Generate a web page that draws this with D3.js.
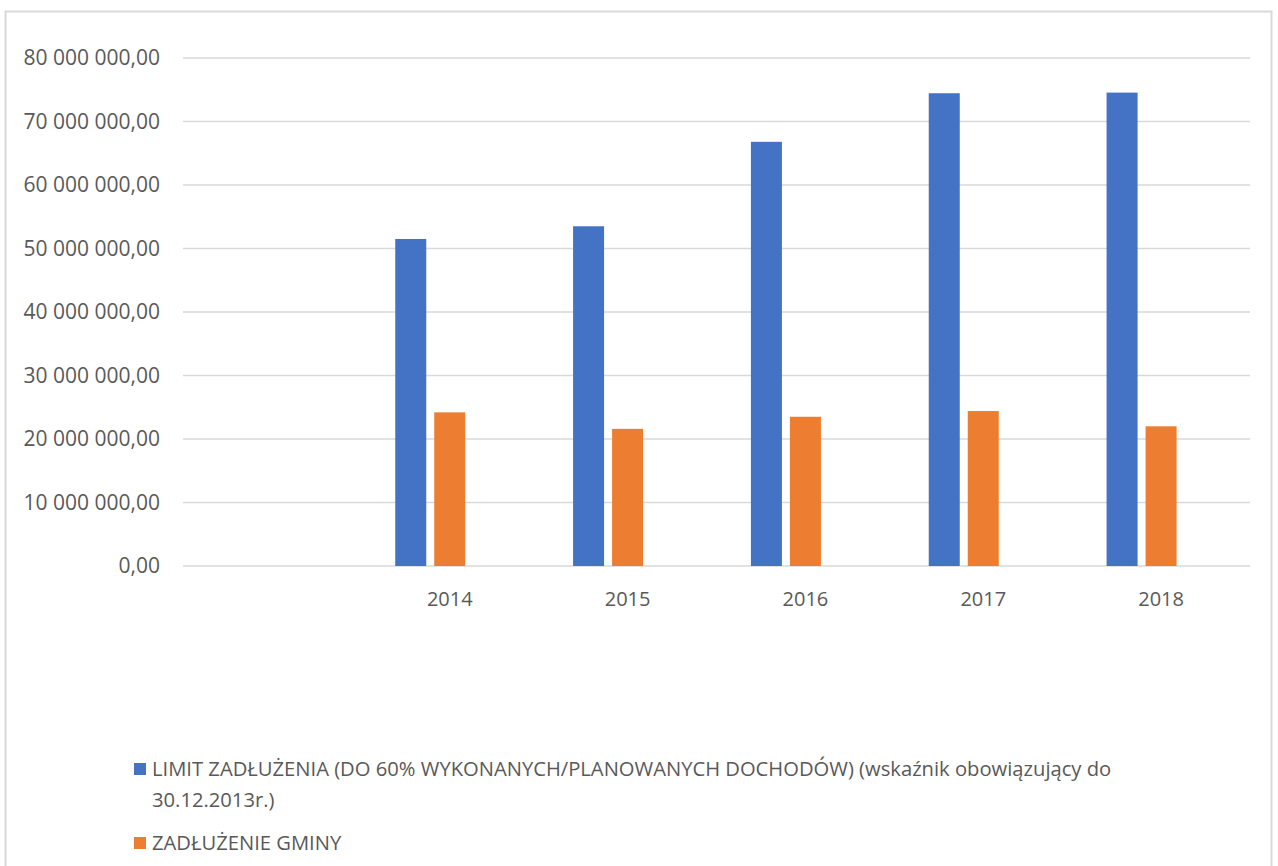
<!DOCTYPE html>
<html>
  <head>
    <meta charset="utf-8">
    <title>Limit zadłużenia</title>
    <style>
      body {margin:0; background:#fff;}
      svg {display:block;}
      text {font-family:"Open Sans", sans-serif; fill:#595959;}
      .yaxis text {font-size:21px;}
      .xaxis text {font-size:20px;}
      .legend text {font-size:20.2px;}
    </style>
    <script src="https://cdn.jsdelivr.net/npm/d3@7"></script>
  </head>
  <body>
    <svg id="chart" width="1278" height="866"></svg>
    <script>
      var years      = ["", "2014", "2015", "2016", "2017", "2018"];
      var seriesName = ["LIMIT ZADŁUŻENIA (DO 60% WYKONANYCH/PLANOWANYCH DOCHODÓW) (wskaźnik obowiązujący do 30.12.2013r.)",
                        "ZADŁUŻENIE GMINY"];
      var limitVals  = [null, 51500000, 53500000, 66800000, 74450000, 74550000];
      var debtVals   = [null, 24200000, 21600000, 23500000, 24400000, 22000000];
      var yTicks     = [0, 10000000, 20000000, 30000000, 40000000, 50000000, 60000000, 70000000, 80000000];
      var myColor    = ["#4472c4", "#ed7d31"];

      var svg = d3.select("#chart");
      var plotLeft = 183, plotRight = 1250, plotTop = 58, plotBottom = 566;

      // outer frame
      svg.append("rect")
         .attr("x", 5.5).attr("y", 11.5)
         .attr("width", 1266).attr("height", 900)
         .attr("fill", "none").attr("stroke", "#d9d9d9").attr("stroke-width", 2);

      var x = d3.scaleBand().domain(d3.range(years.length)).range([plotLeft, plotRight]).paddingInner(0.387).paddingOuter(0.1935);
      // third slot is an empty series in the original sheet
      var xs = d3.scaleBand().domain([0, 1, 2]).range([0, x.bandwidth()]).paddingInner(0.205);
      var y = d3.scaleLinear().domain([0, 80000000]).range([plotBottom, plotTop]);

      var fmt = function(v) {
        return d3.format(",.2f")(v).replace(/,/g, " ").replace(".", ",");
      };

      // gridlines
      svg.append("g")
         .selectAll("line")
         .data(yTicks)
         .enter().append("line")
         .attr("x1", plotLeft).attr("x2", plotRight)
         .attr("y1", function(d) {return y(d);})
         .attr("y2", function(d) {return y(d);})
         .attr("stroke", "#d9d9d9").attr("stroke-width", 1.5);

      // y labels
      svg.append("g").attr("class", "yaxis")
         .selectAll("text")
         .data(yTicks)
         .enter().append("text")
         .attr("x", 160)
         .attr("y", function(d) {return y(d);})
         .attr("dy", "0.35em")
         .attr("text-anchor", "end")
         .text(function(d) {return fmt(d);});

      // bars
      var series = [limitVals, debtVals];
      series.forEach(function(vals, s) {
        svg.append("g")
           .selectAll("rect")
           .data(vals.map(function(v, i) {return {i: i, v: v};}).filter(function(d) {return d.v != null;}))
           .enter().append("rect")
           .attr("x", function(d) {return x(d.i) + xs(s);})
           .attr("y", function(d) {return y(d.v);})
           .attr("width", xs.bandwidth())
           .attr("height", function(d) {return plotBottom - y(d.v);})
           .attr("fill", myColor[s]);
      });

      // x labels
      svg.append("g").attr("class", "xaxis")
         .selectAll("text")
         .data(years)
         .enter().append("text")
         .attr("x", function(d, i) {return x(i) + x.bandwidth() / 2;})
         .attr("y", 606)
         .attr("text-anchor", "middle")
         .text(function(d) {return d;});

      // legend
      var legend = svg.append("g").attr("class", "legend");
      var legendLines = [["LIMIT ZADŁUŻENIA (DO 60% WYKONANYCH/PLANOWANYCH DOCHODÓW) (wskaźnik obowiązujący do", "30.12.2013r.)"],
                         ["ZADŁUŻENIE GMINY"]];
      var legendY = [776, 850];
      legendLines.forEach(function(lines, s) {
        legend.append("rect")
              .attr("x", 134).attr("y", legendY[s] - 13)
              .attr("width", 12).attr("height", 12)
              .attr("fill", myColor[s]);
        var t = legend.append("text").attr("x", 152).attr("y", legendY[s]);
        lines.forEach(function(line, k) {
          t.append("tspan").attr("x", 152).attr("dy", k ? 31 : 0).text(line);
        });
      });
    </script>
  </body>
</html>
